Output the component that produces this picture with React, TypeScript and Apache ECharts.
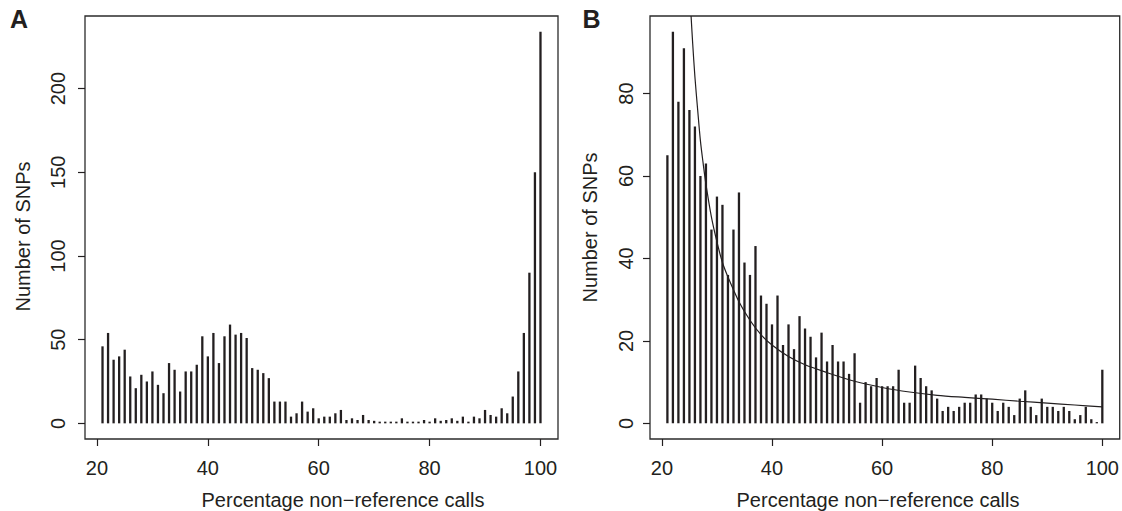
import React, { useEffect, useRef } from "react";
import * as echarts from "echarts";

const pct = [
  21, 22, 23, 24, 25, 26, 27, 28, 29, 30,
  31, 32, 33, 34, 35, 36, 37, 38, 39, 40,
  41, 42, 43, 44, 45, 46, 47, 48, 49, 50,
  51, 52, 53, 54, 55, 56, 57, 58, 59, 60,
  61, 62, 63, 64, 65, 66, 67, 68, 69, 70,
  71, 72, 73, 74, 75, 76, 77, 78, 79, 80,
  81, 82, 83, 84, 85, 86, 87, 88, 89, 90,
  91, 92, 93, 94, 95, 96, 97, 98, 99, 100,
];

const snpsA = [
  46, 54, 38, 40, 44, 28, 21, 29, 25, 31,
  23, 18, 36, 32, 19, 31, 31, 35, 52, 40,
  54, 36, 52, 59, 53, 54, 51, 33, 32, 30,
  27, 13, 13, 13, 4, 6, 13, 7, 9, 3,
  4, 4, 6, 8, 2, 3, 2, 5, 2, 1.5,
  1, 1, 1, 1, 3, 1, 1, 1, 2, 1,
  3, 1.5, 2, 3, 1.5, 4, 1, 4, 3, 8,
  5, 4, 9, 6, 16, 31, 54, 90, 150, 234,
];

const snpsB = [
  65, 95, 78, 91, 76, 72, 60, 63, 47, 55,
  53, 36, 47, 56, 39, 36, 43, 31, 29, 24,
  31, 19, 24, 18, 26, 23, 21, 16, 22, 15,
  19, 15, 15, 12, 17, 5, 10, 9, 11, 9,
  9, 9, 13, 5, 5, 14, 11, 9, 8, 6,
  3, 4, 3, 4, 5, 5, 7, 7, 6, 5,
  3, 5, 4, 2, 6, 8, 4, 2, 6, 4,
  4, 3, 4, 3, 1, 2, 4, 1, 0.3, 13,
];

const fitX = [25.3, 25.6, 26, 26.5, 27, 27.5, 28, 29, 30, 31, 32, 34, 36, 38, 40, 43, 46, 50, 55, 60, 65, 70, 75, 80, 85, 90, 95, 100];
const fitY = [98.8, 92, 84, 76, 68.5, 63, 58, 50, 44, 39, 35.5, 29.5, 25, 21.5, 19, 16.2, 14.2, 12.3, 10.2, 8.7, 7.6, 6.8, 6.3, 5.85, 5.35, 4.9, 4.45, 4.0];

const xTicks = [20, 40, 60, 80, 100];
const yTicksA = [0, 50, 100, 150, 200];
const yTicksB = [0, 20, 40, 60, 80];

const xLabel = "Percentage non\u2212reference calls";
const yLabel = "Number of SNPs";

const FONT = "'Liberation Sans', Arial, Helvetica, sans-serif";
const INK = "#231f20";

export default function App() {
  const ref = useRef<HTMLDivElement>(null);
  useEffect(() => {
    if (!ref.current) return;
    const chart = echarts.init(ref.current, undefined, { renderer: "svg" });
    const gridBase = {
      top: 16,
      width: 473,
      height: 423,
      show: true,
      borderColor: "#2b2b2b",
      borderWidth: 1.3,
      backgroundColor: "transparent",
      containLabel: false,
    };
    const xAxisFor = (gi: number) => ({
      type: "value",
      gridIndex: gi,
      position: "bottom",
      min: 17.84,
      max: 103.16,
      axisLine: { show: false, onZero: false },
      splitLine: { show: false },
      axisTick: {
        show: true,
        inside: false,
        length: 7,
        customValues: xTicks,
        lineStyle: { color: INK, width: 1.2 },
      },
      axisLabel: {
        customValues: xTicks,
        margin: 19,
        fontSize: 20,
        fontFamily: FONT,
        color: INK,
      },
    });
    const yAxisFor = (gi: number, min: number, max: number, ticks: number[], margin: number) => ({
      type: "value",
      gridIndex: gi,
      position: "left",
      min,
      max,
      axisLine: { show: false, onZero: false },
      splitLine: { show: false },
      axisTick: {
        show: true,
        inside: false,
        length: 7,
        customValues: ticks,
        lineStyle: { color: INK, width: 1.2 },
      },
      axisLabel: {
        customValues: ticks,
        rotate: 90,
        margin,
        fontSize: 20,
        fontFamily: FONT,
        color: INK,
      },
    });
    const textStyle = (t: string, size: number, weight: string = "normal") => ({
      text: t,
      fontSize: size,
      fontFamily: FONT,
      fontWeight: weight,
      fill: INK,
      align: "center",
      verticalAlign: "middle",
      textAlign: "center",
      textVerticalAlign: "middle",
    });
    chart.setOption({
      animation: false,
      backgroundColor: "#ffffff",
      grid: [
        { ...gridBase, left: 85 },
        { ...gridBase, left: 650 },
      ],
      xAxis: [xAxisFor(0), xAxisFor(1)],
      yAxis: [
        yAxisFor(0, -9.36, 243.36, yTicksA, 17),
        yAxisFor(1, -3.8, 98.8, yTicksB, 14),
      ],
      series: [
        {
          type: "bar",
          xAxisIndex: 0,
          yAxisIndex: 0,
          barWidth: 2.3,
          itemStyle: { color: INK },
          data: pct.map((p, i) => [p, snpsA[i]]),
        },
        {
          type: "bar",
          xAxisIndex: 1,
          yAxisIndex: 1,
          barWidth: 2.3,
          itemStyle: { color: INK },
          data: pct.map((p, i) => [p, snpsB[i]]),
        },
        {
          type: "line",
          xAxisIndex: 1,
          yAxisIndex: 1,
          smooth: 0.3,
          showSymbol: false,
          symbol: "none",
          clip: true,
          lineStyle: { color: INK, width: 1.2 },
          data: fitX.map((x, i) => [x, fitY[i]]),
        },
      ],
      graphic: [
        { type: "text", x: 19, y: 19, style: textStyle("A", 25, "bold") },
        { type: "text", x: 591.5, y: 19, style: textStyle("B", 25, "bold") },
        { type: "text", x: 343, y: 500, style: textStyle(xLabel, 20) },
        { type: "text", x: 878, y: 500, style: textStyle(xLabel, 20) },
        { type: "text", x: 23, y: 236.5, rotation: Math.PI / 2, style: textStyle(yLabel, 20) },
        { type: "text", x: 590, y: 227.5, rotation: Math.PI / 2, style: textStyle(yLabel, 20) },
      ],
    });
    return () => chart.dispose();
  }, []);
  return (
    <div
      ref={ref}
      style={{ position: "fixed", left: 0, top: 0, width: 1122, height: 511, background: "#fff" }}
    />
  );
}
